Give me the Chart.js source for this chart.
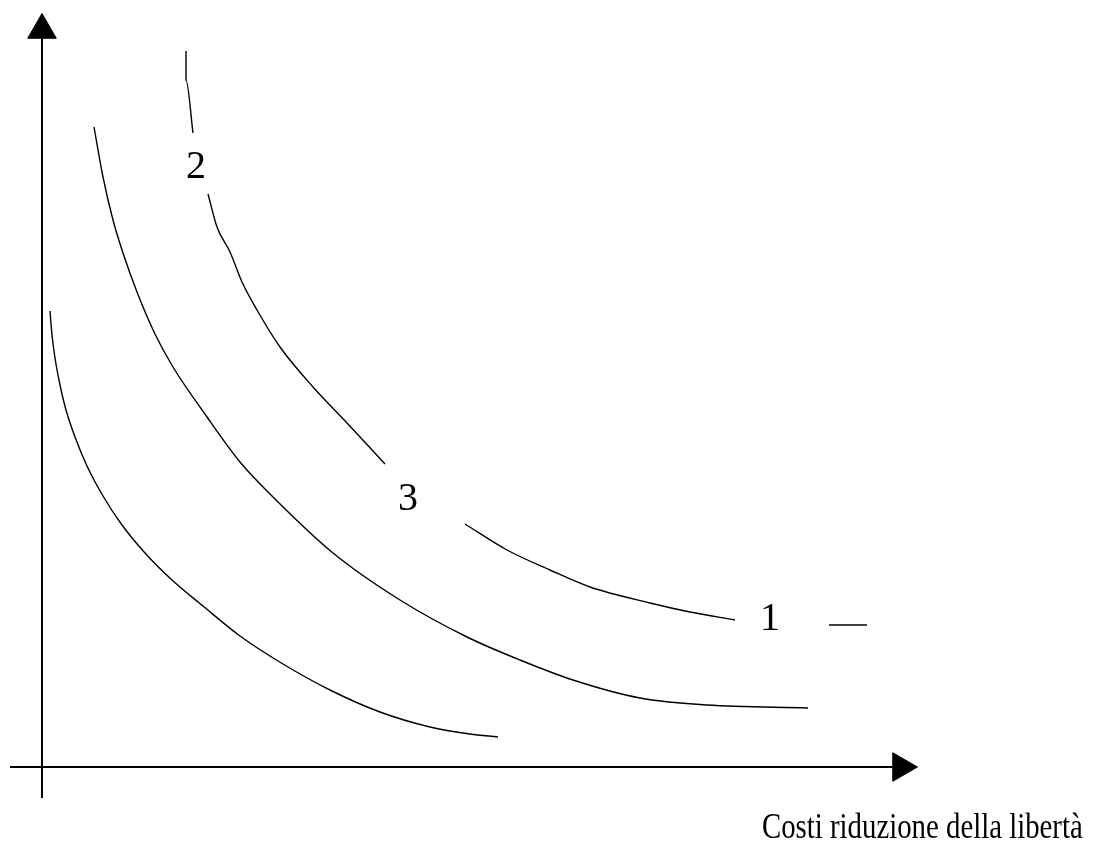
<!DOCTYPE html>
<html>
<head>
<meta charset="utf-8">
<title>Curve</title>
<script src="https://cdn.jsdelivr.net/npm/chart.js@4"></script>
<style>
  html, body { margin: 0; padding: 0; background: #fff; }
  #wrap { width: 1110px; height: 843px; }
</style>
</head>
<body>
<div id="wrap"><canvas id="curveChart" width="1110" height="843"></canvas></div>
<script>
// curves (data units, origin = axes crossing)
const curveA = [
  [0.8, 45.6], [1.0, 43.2], [1.3, 40.9], [1.8, 38.2], [2.4, 35.7], [3.3, 33.0],
  [4.5, 30.1], [6.1, 27.1], [8.0, 24.2], [10.3, 21.4], [13.0, 18.7], [16.1, 16.1],
  [19.8, 13.1], [24.1, 10.3], [28.8, 7.7], [33.8, 5.5], [38.8, 4.0], [42.8, 3.3], [45.6, 3.0]
];
const curveB = [
  [5.2, 64.0], [6.1, 59.0], [7.1, 54.7], [8.1, 51.4], [9.5, 47.5], [11.3, 43.3],
  [13.1, 40.0], [16.5, 35.0], [19.8, 30.5], [23.1, 27.0], [29.1, 21.4], [35.8, 16.7],
  [42.5, 13.0], [47.8, 10.7], [53.1, 8.7], [59.8, 6.9], [66.5, 6.2], [76.6, 5.9]
];
// outer curve is broken where the labels sit
const curveC1 = [[14.4, 71.6], [14.4, 68.7], [15.1, 63.4]];
const curveC2 = [
  [16.6, 57.3], [17.5, 54.0], [18.8, 51.5], [20.0, 48.5], [21.5, 45.7],
  [23.8, 42.0], [27.1, 38.0], [30.5, 34.4], [34.3, 30.3]
];
const curveC3 = [
  [42.3, 24.3], [46.5, 21.7], [50.8, 19.7], [54.8, 18.0], [60.8, 16.4], [64.8, 15.5], [69.3, 14.7]
];
const curveC4 = [[78.7, 14.2], [82.5, 14.2]];

// axes
const xAxisLine = [[-3.2, 0], [85.1, 0]];
const yAxisLine = [[0, -3.1], [0, 72.9]];
const xArrow = [[85.9, 0]];
const yArrow = [[0, 73.7]];

// labels
const curveLabels = ['2', '3', '1'];
const curveLabelPos = [[15.4, 60.0], [36.6, 26.8], [72.8, 14.8]];
const axisTitle = 'Costi riduzione della libertà';
const axisTitlePos = [72.0, -7.1];

const toPts = arr => arr.map(p => ({ x: p[0], y: p[1] }));

function curve(data) {
  return {
    data: toPts(data),
    showLine: true,
    borderColor: '#000',
    borderWidth: 1.4,
    pointRadius: 0,
    fill: false,
    cubicInterpolationMode: 'monotone'
  };
}

function axisLine(data) {
  return {
    data: toPts(data),
    showLine: true,
    borderColor: '#000',
    borderWidth: 2,
    pointRadius: 0,
    fill: false
  };
}

function arrow(data, rotation) {
  return {
    data: toPts(data),
    showLine: false,
    pointStyle: 'triangle',
    pointRadius: 16.5,
    rotation: rotation,
    backgroundColor: '#000',
    borderColor: '#000',
    borderWidth: 1
  };
}

const textPlugin = {
  id: 'curveText',
  afterDatasetsDraw(chart) {
    const ctx = chart.ctx;
    const xs = chart.scales.x, ys = chart.scales.y;
    ctx.save();
    ctx.fillStyle = '#000';
    ctx.font = '40px "Liberation Serif", "Times New Roman", serif';
    ctx.textAlign = 'center';
    ctx.textBaseline = 'middle';
    curveLabels.forEach((t, i) => {
      ctx.fillText(t, xs.getPixelForValue(curveLabelPos[i][0]), ys.getPixelForValue(curveLabelPos[i][1]));
    });
    // axis title, slightly condensed like the original
    ctx.translate(xs.getPixelForValue(axisTitlePos[0]), ys.getPixelForValue(axisTitlePos[1]));
    ctx.scale(0.8, 1);
    ctx.font = '36px "Liberation Serif", "Times New Roman", serif';
    ctx.textAlign = 'left';
    ctx.textBaseline = 'alphabetic';
    ctx.fillText(axisTitle, 0, 0);
    ctx.restore();
  }
};

new Chart(document.getElementById('curveChart'), {
  type: 'scatter',
  data: {
    datasets: [
      axisLine(xAxisLine),
      axisLine(yAxisLine),
      arrow(xArrow, 90),
      arrow(yArrow, 0),
      curve(curveA),
      curve(curveB),
      curve(curveC1),
      curve(curveC2),
      curve(curveC3),
      curve(curveC4)
    ]
  },
  options: {
    responsive: false,
    animation: false,
    layout: { padding: 0, autoPadding: false },
    plugins: {
      legend: { display: false },
      tooltip: { enabled: false }
    },
    scales: {
      x: { type: 'linear', display: false, min: -4.2, max: 106.8 },
      y: { type: 'linear', display: false, min: -7.6, max: 76.7 }
    }
  },
  plugins: [textPlugin]
});
</script>
</body>
</html>
